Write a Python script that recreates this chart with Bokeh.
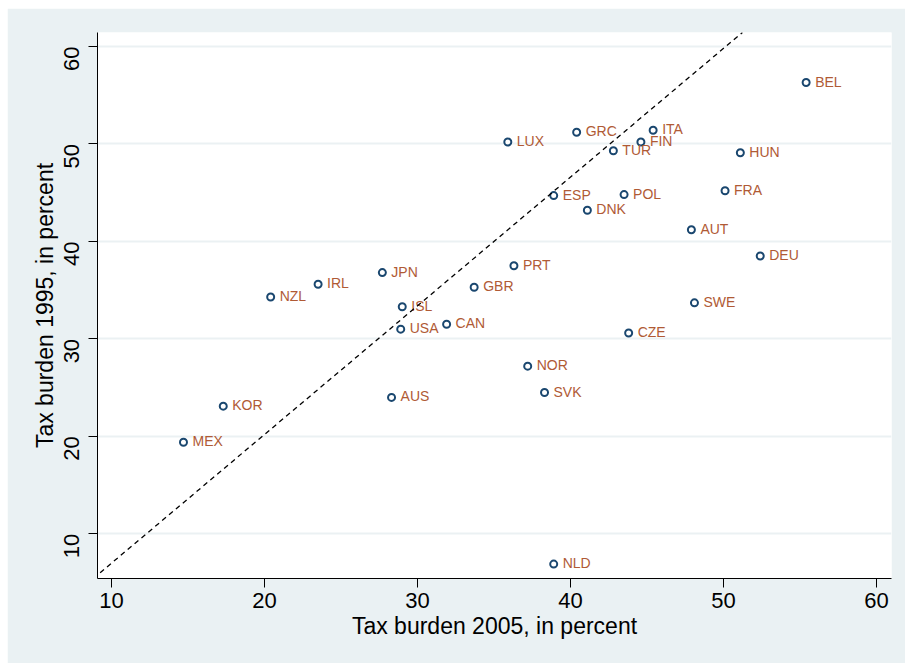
import math

from bokeh.core.properties import value
from bokeh.embed import file_html
from bokeh.models import ColumnDataSource, FixedTicker, Range1d, Slope
from bokeh.plotting import figure
from bokeh.resources import INLINE

# Tax burden (tax revenue as % of GDP) by OECD country
countries = ["BEL", "LUX", "GRC", "ITA", "FIN", "TUR", "HUN", "ESP", "POL", "FRA",
             "DNK", "AUT", "DEU", "PRT", "SWE", "CZE", "JPN", "IRL", "NZL", "ISL",
             "USA", "CAN", "GBR", "AUS", "NOR", "SVK", "KOR", "MEX", "NLD"]
burden_2005 = [55.4, 35.9, 40.4, 45.4, 44.6, 42.8, 51.1, 38.9, 43.5, 50.1,
               41.1, 47.9, 52.4, 36.3, 48.1, 43.8, 27.7, 23.5, 20.4, 29.0,
               28.9, 31.9, 33.7, 28.3, 37.2, 38.3, 17.3, 14.7, 38.9]
burden_1995 = [56.3, 50.2, 51.2, 51.4, 50.2, 49.3, 49.1, 44.7, 44.8, 45.2,
               43.2, 41.2, 38.5, 37.5, 33.7, 30.6, 36.8, 35.6, 34.3, 33.3,
               31.0, 31.5, 35.3, 24.0, 27.2, 24.5, 23.1, 19.4, 6.9]

# Reference line drawn across the scatter
ref_slope = 1.32
ref_intercept = -6.2

axis_ticks = [10, 20, 30, 40, 50, 60]

BG = "#EAF1F3"
NAVY = "#1A476F"
LABEL = "#B05A35"
FONT = "Liberation Sans"

source = ColumnDataSource(dict(x=burden_2005, y=burden_1995, label=countries))

p = figure(
    width=898, height=655,
    output_backend="svg", toolbar_location=None,
    x_range=Range1d(9.08, 60.98), y_range=Range1d(5.42, 61.43),
    min_border_left=90, min_border_right=14, min_border_top=24, min_border_bottom=85,
    background_fill_color="white", border_fill_color=BG,
    outline_line_color=None,
)
p.margin = (8, 0, 0, 7)

p.add_layout(Slope(gradient=ref_slope, y_intercept=ref_intercept,
                   line_color="black", line_width=1.3, line_dash="5 4"))

p.scatter("x", "y", source=source, marker="circle", size=7,
          fill_color="white", line_color=NAVY, line_width=2)

p.text("x", "y", text="label", source=source, x_offset=9, y_offset=-1,
       text_baseline="middle", text_align="left",
       text_font=value(FONT), text_font_size="14px", text_color=LABEL)

# grid: horizontal lines only
p.xgrid.grid_line_color = None
p.ygrid.grid_line_color = "#EBF1F3"
p.ygrid.grid_line_width = 2

for ax in (p.xaxis, p.yaxis):
    ax.ticker = FixedTicker(ticks=axis_ticks)
    ax.minor_tick_line_color = None
    ax.major_tick_in = 0
    ax.major_tick_out = 9
    ax.major_tick_line_color = "black"
    ax.axis_line_color = "black"
    ax.major_label_text_font = FONT
    ax.major_label_text_font_size = "22px"
    ax.major_label_text_color = "black"
    ax.axis_label_text_font = FONT
    ax.axis_label_text_font_size = "23px"
    ax.axis_label_text_font_style = "normal"
    ax.axis_label_text_color = "black"

p.xaxis.axis_label = "Tax burden 2005, in percent"
p.yaxis.axis_label = "Tax burden 1995, in percent"
p.xaxis.major_label_standoff = 5
p.xaxis.axis_label_standoff = 2
p.yaxis.major_label_orientation = math.pi / 2
p.yaxis.major_label_standoff = 17
p.yaxis.axis_label_standoff = -4

open("out.html", "w").write(file_html(p, INLINE))
